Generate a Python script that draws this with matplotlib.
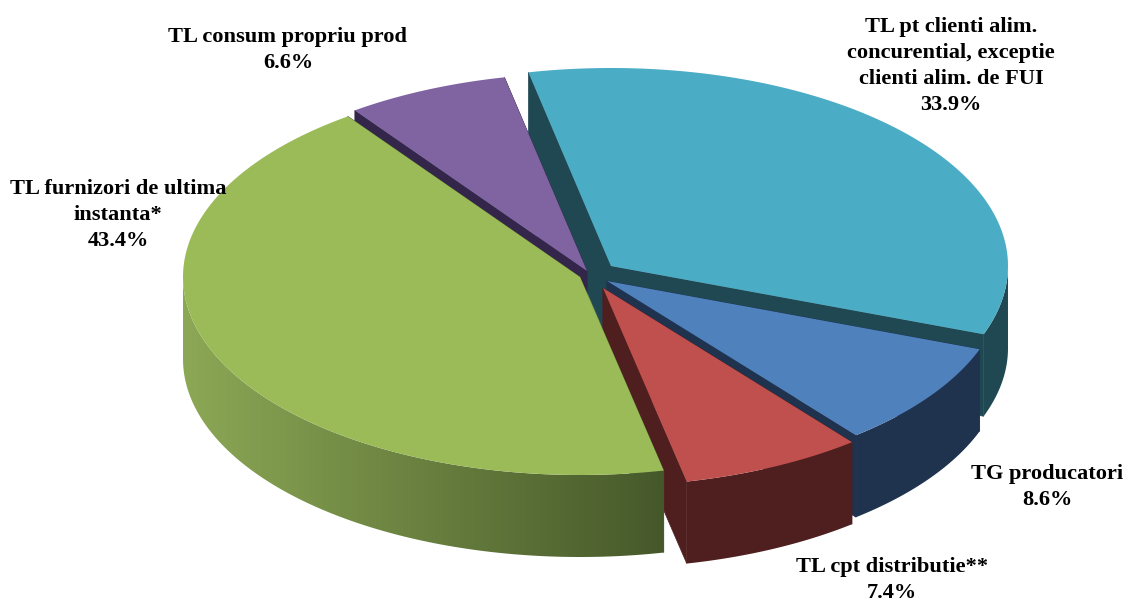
import numpy as np
import matplotlib
matplotlib.use("Agg")
import matplotlib.pyplot as plt
from matplotlib.colors import LinearSegmentedColormap
from matplotlib.patches import Polygon

categories = ["TL pt clienti alim.\nconcurential, exceptie\nclienti alim. de FUI", "TG producatori",
              "TL cpt distributie**", "TL furnizori de ultima\ninstanta*", "TL consum propriu prod"]
shares = [33.9, 8.6, 7.4, 43.4, 6.6]

top_colors = ["#4bacc6", "#4f81bd", "#c0504d", "#9bbb59", "#8064a2"]
wall_colors = ["#1f4852", "#1f334f", "#4f1f1f", "#46582a", "#33264a"]
wall_left_color = "#8ca855"  # only the big green slice has a visible gradient

# pie shape in pixels
center_x, center_y = 596, 276
radius_x, radius_y = 397, 198
depth = 82
start_angle = 102
# how far each slice was pulled out
explode = [(15, -10), (11, 5), (7, 12), (-16, 1), (-9, -5)]
label_pos = [(951, 66), (1047, 487), (892, 580), (118, 215), (288, 50)]

# green last, its top and wall sit over the cut face of the red slice
draw_order = [0, 4, 1, 2, 3]

sweep = np.array(shares) / sum(shares) * 360
ends = start_angle - np.cumsum(sweep)
starts = ends + sweep


def rim_point(cx, cy, angle):
    t = np.radians(angle)
    return cx + radius_x * np.cos(t), cy - radius_y * np.sin(t)


fig = plt.figure(figsize=(11.26, 6.02), dpi=100)
ax = fig.add_axes([0, 0, 1, 1])

for z, i in enumerate(draw_order):
    cx = center_x + explode[i][0]
    cy = center_y + explode[i][1]

    # the two cut faces
    for angle in (starts[i], ends[i]):
        px, py = rim_point(cx, cy, angle)
        face = [(cx, cy), (px, py), (px, py + depth), (cx, cy + depth)]
        ax.add_patch(Polygon(face, closed=True, fc=wall_colors[i], ec=wall_colors[i], lw=0.5, zorder=z + 1))

    # outer wall, only the part facing the viewer
    ts = np.linspace(ends[i], starts[i], 200)
    ts = ts[np.sin(np.radians(ts)) <= 0]
    if len(ts) > 1:
        xs, ys = rim_point(cx, cy, ts)
        wall_pts = np.vstack([np.column_stack([xs, ys]), np.column_stack([xs, ys + depth])[::-1]])
        if i == 3:
            wall = Polygon(wall_pts, closed=True, fc="none", ec="none", zorder=z + 1.2)
            ax.add_patch(wall)
            cmap = LinearSegmentedColormap.from_list("wall", [wall_left_color, wall_colors[i]])
            im = ax.imshow(np.linspace(0, 1, 256).reshape(1, -1), cmap=cmap, aspect="auto", zorder=z + 1.2,
                           extent=[xs.min(), xs.max(), ys.max() + depth, ys.min()])
            im.set_clip_path(wall)
        else:
            ax.add_patch(Polygon(wall_pts, closed=True, fc=wall_colors[i], ec="none", zorder=z + 1.2))

    # top of the slice
    ts = np.linspace(starts[i], ends[i], 200)
    xs, ys = rim_point(cx, cy, ts)
    top = np.vstack([[cx, cy], np.column_stack([xs, ys])])
    ax.add_patch(Polygon(top, closed=True, fc=top_colors[i], ec="none", zorder=z + 1.4))

for name, share, (lx, ly) in zip(categories, shares, label_pos):
    ax.text(lx, ly, f"{name}\n{share:.1f}%", ha="center", va="center", family="Liberation Serif",
            fontweight="bold", fontsize=16.1, linespacing=1.39, color="black", zorder=10)

ax.set_xlim(0, 1126)
ax.set_ylim(602, 0)
ax.axis("off")

fig.savefig("out.png", dpi=100)
